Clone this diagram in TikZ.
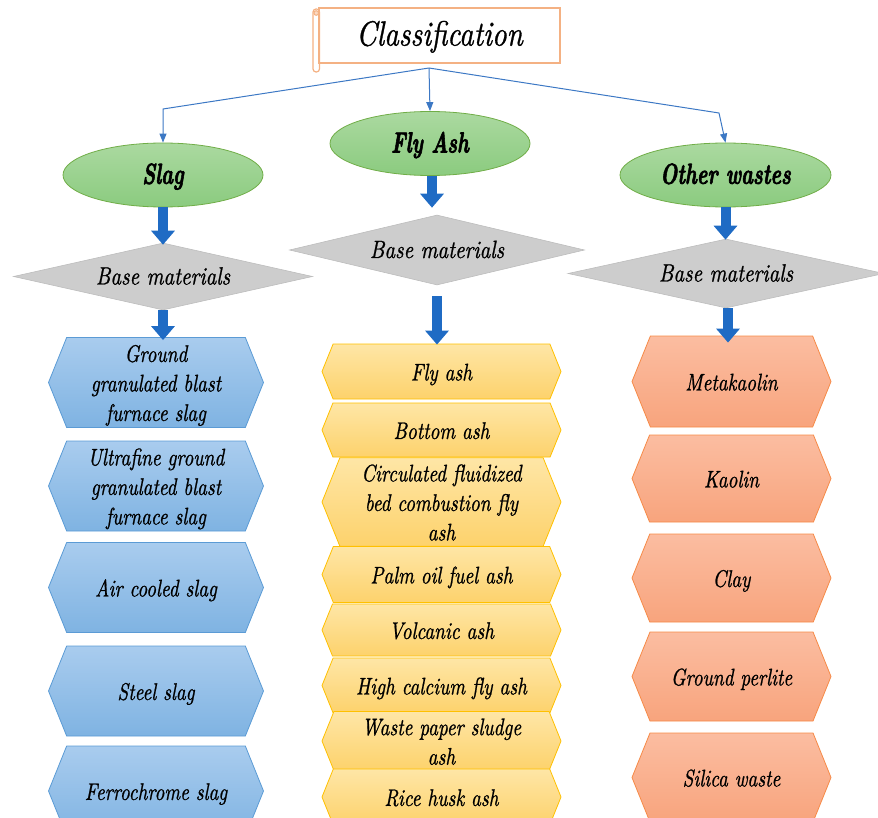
\documentclass[tikz,border=0pt]{standalone}
\usepackage{fontspec}
\setmainfont{lmroman10}[Extension=.otf, UprightFont=*-regular, ItalicFont=*-italic,
  BoldFont=*-bold, BoldItalicFont=*-bolditalic, ItalicFeatures={FakeBold=1.0},
  BoldItalicFeatures={FakeBold=2.6}]
\usetikzlibrary{shapes.geometric,shapes.symbols,arrows.meta}
\newcommand\cz[2]{\raisebox{-3pt}[\height][\depth]{\scalebox{#1}[1]{\begin{tabular}{@{}c@{}}#2\end{tabular}}}}
\definecolor{bluetop}{HTML}{A9CCEE}
\definecolor{bluebot}{HTML}{7FB3E2}
\definecolor{blueline}{HTML}{5B9BD5}
\definecolor{yeltop}{HTML}{FEE6A6}
\definecolor{yelbot}{HTML}{FDD26C}
\definecolor{yelline}{HTML}{FFC000}
\definecolor{orgtop}{HTML}{FBBDA1}
\definecolor{orgbot}{HTML}{F8A47D}
\definecolor{orgline}{HTML}{F68A47}
\definecolor{grntop}{HTML}{ABD9A0}
\definecolor{grnbot}{HTML}{8BCB7F}
\definecolor{grnline}{HTML}{70AD47}
\definecolor{dia}{HTML}{CDCDCD}
\definecolor{dialine}{HTML}{BDBDBD}
\definecolor{arrowblue}{HTML}{1F6BC4}
\definecolor{thinblue}{HTML}{3C78C4}
\definecolor{titleline}{HTML}{F4B183}
\begin{document}
\begin{tikzpicture}[x=1pt,y=-1pt,
  hexbase/.style={shape=signal, signal to=west and east, signal pointer angle=136,
    inner sep=0pt, align=center, line width=0.8pt,
    font=\fontsize{24}{29.5}\selectfont\itshape},
  hexS/.style={hexbase, minimum width=215pt, minimum height=90pt,
    top color=bluetop, bottom color=bluebot, draw=blueline},
  hexF/.style={hexbase, minimum width=239pt,
    top color=yeltop, bottom color=yelbot, draw=yelline},
  hexO/.style={hexbase, minimum width=199pt,
    top color=orgtop, bottom color=orgbot, draw=orgline},
  ell/.style={ellipse, inner sep=0pt, top color=grntop, bottom color=grnbot,
    draw=grnline, line width=0.8pt, minimum height=64pt,
    font=\fontsize{29}{29}\selectfont\bfseries\itshape},
  basedia/.style={diamond, aspect=4.4, inner sep=0pt, fill=dia, draw=dialine,
    line width=0.6pt, font=\fontsize{25}{25}\selectfont\itshape},
  bigarrow/.style={draw=arrowblue, line width=10pt,
    -{Triangle[width=23pt,length=14pt]}},
  thinarrow/.style={draw=thinblue, line width=1pt,
    -{Triangle[width=7pt,length=9pt]}}
]
\useasboundingbox (0,0) rectangle (878,818);
\clip (0,0) rectangle (878,818);

% title scroll
\node[draw=titleline, line width=1.2pt, minimum width=241pt, minimum height=55pt,
  inner sep=0pt, font=\fontsize{35}{35}\selectfont\itshape] (title) at (439.5,35.5) {\cz{0.82}{Classification}};
\draw[titleline, line width=1.2pt, rounded corners=3pt] (313,9) rectangle (319.5,72);
\draw[titleline, line width=1pt, fill=titleline!50] (316.2,13) circle (2.3pt);

% ellipses
\node[ell, minimum width=200pt] (slag) at (163,175) {\cz{0.69}{Slag}};
\node[ell, minimum width=200pt] (flyash) at (430,143.5) {\cz{0.69}{Fly Ash}};
\node[ell, minimum width=211pt] (other) at (725.5,175) {\cz{0.69}{Other wastes}};

% thin connectors
\coordinate (br) at (429,68);
\coordinate (lc) at (163,109);
\coordinate (rc) at (719,113);
\draw[thinarrow] (br) -- (lc) -- (slag.north);
\draw[thinarrow] (br) -- (flyash.north);
\draw[thinarrow] (br) -- (rc) -- (other.north);

% diamonds
\node[basedia, minimum width=299pt, minimum height=67pt] (sdia) at (163,276.5) {\cz{0.83}{Base materials}};
\node[basedia, minimum width=295pt, minimum height=70pt] (fdia) at (437,250) {\cz{0.83}{Base materials}};
\node[basedia, minimum width=316pt, minimum height=69pt] (odia) at (726,273.5) {\cz{0.83}{Base materials}};

% slag column
\node[hexS] (s1) at (156,382.5) {\cz{0.8}{Ground\\granulated blast\\furnace slag}};
\node[hexS] (s2) at (156,486) {\cz{0.8}{Ultrafine ground\\granulated blast\\furnace slag}};
\node[hexS] (s3) at (156,587.5) {\cz{0.8}{Air cooled slag}};
\node[hexS] (s4) at (156,691) {\cz{0.8}{Steel slag}};
\node[hexS] (s5) at (156,791) {\cz{0.8}{Ferrochrome slag}};

% fly ash column
\node[hexF, minimum height=55pt] (f1) at (441.5,371.5) {\cz{0.8}{Fly ash}};
\node[hexF, minimum height=54pt] (f2) at (441.5,430) {\cz{0.8}{Bottom ash}};
\node[hexF, minimum height=88pt] (f3) at (441.5,502) {\cz{0.8}{Circulated fluidized\\bed combustion fly\\ash}};
\node[hexF, minimum height=56pt] (f4) at (441.5,574.5) {\cz{0.8}{Palm oil fuel ash}};
\node[hexF, minimum height=52pt] (f5) at (441.5,630) {\cz{0.8}{Volcanic ash}};
\node[hexF, minimum height=55pt] (f6) at (441.5,685.5) {\cz{0.8}{High calcium fly ash}};
\node[hexF, minimum height=56pt] (f7) at (441.5,741) {\cz{0.8}{Waste paper sludge\\ash}};
\node[hexF, minimum height=56pt] (f8) at (441.5,797) {\cz{0.8}{Rice husk ash}};

% other column
\node[hexO, minimum height=91pt] (o1) at (731.5,381.5) {\cz{0.8}{Metakaolin}};
\node[hexO, minimum height=87pt] (o2) at (731.5,478.5) {\cz{0.8}{Kaolin}};
\node[hexO, minimum height=88pt] (o3) at (731.5,578) {\cz{0.8}{Clay}};
\node[hexO, minimum height=89pt] (o4) at (731.5,676.5) {\cz{0.8}{Ground perlite}};
\node[hexO, minimum height=89pt] (o5) at (731.5,777.5) {\cz{0.8}{Silica waste}};

% thick arrows
\draw[bigarrow] (slag.south) -- ([yshift=-2pt]sdia.north);
\draw[bigarrow] ([xshift=2pt]flyash.south) -- ([xshift=2pt,yshift=7pt]flyash.south |- fdia.north);
\draw[bigarrow] (other.south) -- ([yshift=-1pt]other.south |- odia.north);
\draw[bigarrow] (sdia.south) -- ([yshift=-3pt]sdia.south |- s1.north);
\draw[bigarrow] ([yshift=-11pt]fdia.south) -- ([yshift=-1pt]fdia.south |- f1.north);
\draw[bigarrow] ([xshift=2pt]odia.south) -- ([xshift=2pt,yshift=-7pt]odia.south |- o1.north);
\end{tikzpicture}
\end{document}
